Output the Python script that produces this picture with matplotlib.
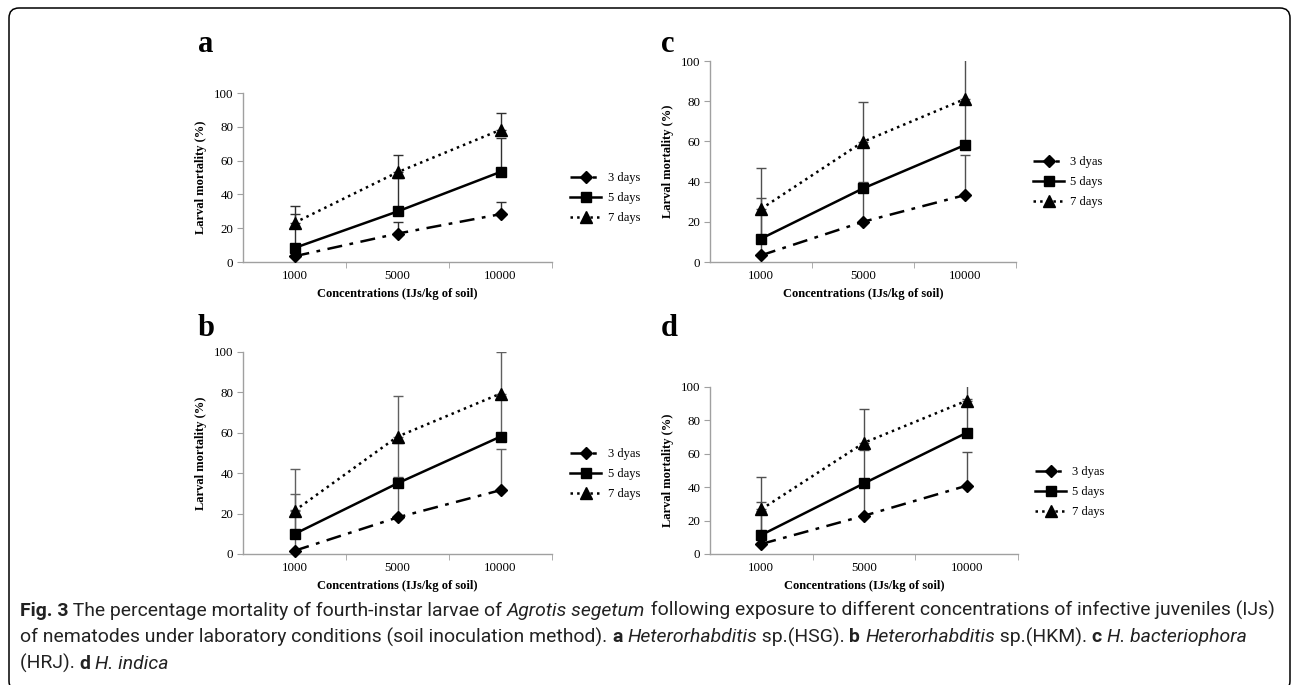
import matplotlib
matplotlib.use('Agg')
import matplotlib.pyplot as plt
import matplotlib.transforms as mtransforms
from matplotlib.patches import FancyBboxPatch

plt.rcParams['font.family'] = ['Liberation Serif', 'DejaVu Serif']

# kategorie na osi x
concentrations = ['1000', '5000', '10000']
ylabel = 'Larval mortality (%)'
xlabel = 'Concentrations (IJs/kg of soil)'

# a - Heterorhabditis sp.(HSG)
a_3 = [3.4, 16.8, 28.3]
a_5 = [8.3, 29.9, 53.3]
a_7 = [23.2, 53.1, 78.2]
a_3_err = [7.0, 7.1, 7.4]
a_5_err = [20.1, 20.0, 19.9]
a_7_err = [10.1, 10.2, 10.2]
a_labels = ['3 days', '5 days', '7 days']

# b - Heterorhabditis sp.(HKM)
b_3 = [1.6, 18.1, 31.6]
b_5 = [9.9, 35.0, 58.1]
b_7 = [21.4, 58.1, 79.4]
b_3_err = [20.0, 20.2, 20.2]
b_5_err = [19.8, 20.1, 20.0]
b_7_err = [20.5, 20.3, 20.6]
b_labels = ['3 dyas', '5 days', '7 days']

# c - H. bacteriophora (HRJ)
c_3 = [3.3, 20.0, 33.3]
c_5 = [11.6, 36.6, 58.2]
c_7 = [26.4, 59.8, 81.1]
c_3_err = [20.6, 19.6, 19.9]
c_5_err = [20.1, 20.8, 20.8]
c_7_err = [20.5, 20.0, 20.4]
c_labels = ['3 dyas', '5 days', '7 days']

# d - H. indica
d_3 = [6.0, 22.9, 40.9]
d_5 = [11.4, 42.3, 72.6]
d_7 = [26.8, 66.6, 91.8]
d_3_err = [20.0, 20.0, 20.4]
d_5_err = [19.9, 20.0, 20.0]
d_7_err = [19.5, 20.0, 20.0]
d_labels = ['3 dyas', '5 days', '7 days']

W, H = 1292, 685
fig = plt.figure(figsize=(W / 100, H / 100), dpi=100)


def px_axes(left, right, top, bottom):
    return fig.add_axes([left / W, 1 - bottom / H, (right - left) / W, (bottom - top) / H])


def panel(ax, s3, s5, s7, e3, e5, e7, labels, leg_x, leg_y, err_col):
    x = range(len(concentrations))
    for vals, err in ((s3, e3), (s5, e5), (s7, e7)):
        ax.errorbar(x, vals, yerr=[[0] * 3, err], fmt='none', ecolor=err_col,
                    elinewidth=1.0, capsize=3.5, capthick=1.0, zorder=2)
    ax.plot(x, s3, color='black', lw=1.8, dashes=(6, 3, 1.5, 3), marker='D',
            ms=6, label=labels[0], clip_on=False, zorder=3)
    ax.plot(x, s5, color='black', lw=1.8, ls='-', marker='s',
            ms=7.5, label=labels[1], clip_on=False, zorder=3)
    ax.plot(x, s7, color='black', lw=1.8, ls=':', marker='^',
            ms=8, label=labels[2], clip_on=False, zorder=3)
    ax.set_xlim(-0.5, 2.5)
    ax.set_ylim(0, 100)
    ax.set_yticks(range(0, 101, 20))
    ax.set_xticks(list(x))
    ax.set_xticklabels(concentrations)
    ax.set_xticks([0.5, 1.5, 2.5], minor=True)
    ax.tick_params(axis='x', which='major', length=0, pad=6, labelsize=9.3)
    ax.tick_params(axis='x', which='minor', length=4, color='#a0a0a0')
    ax.tick_params(axis='y', length=4, color='#a0a0a0', labelsize=9.3, pad=3)
    for s in ('top', 'right'):
        ax.spines[s].set_visible(False)
    for s in ('left', 'bottom'):
        ax.spines[s].set_color('#a0a0a0')
        ax.spines[s].set_linewidth(1.0)
    ax.set_ylabel(ylabel, fontsize=9, fontweight='bold', labelpad=5)
    ax.set_xlabel(xlabel, fontsize=9, fontweight='bold', labelpad=4)
    ax.legend(loc='center left', bbox_to_anchor=(leg_x / W, 1 - leg_y / H),
              bbox_transform=fig.transFigure, frameon=False, fontsize=9,
              handlelength=2.5, handletextpad=0.5, labelspacing=0.65,
              borderpad=0, borderaxespad=0)


ax_a = px_axes(243, 552, 93, 262)
panel(ax_a, a_3, a_5, a_7, a_3_err, a_5_err, a_7_err, a_labels, 570, 198, '#303030')
ax_c = px_axes(710, 1016, 61, 262)
panel(ax_c, c_3, c_5, c_7, c_3_err, c_5_err, c_7_err, c_labels, 1033, 182, '#505050')
ax_b = px_axes(243, 552, 352, 554)
panel(ax_b, b_3, b_5, b_7, b_3_err, b_5_err, b_7_err, b_labels, 570, 474, '#606060')
ax_d = px_axes(710, 1018, 387, 554)
panel(ax_d, d_3, d_5, d_7, d_3_err, d_5_err, d_7_err, d_labels, 1035, 492, '#505050')

# litery paneli
for letter, lx, ly in (('a', 198, 45), ('c', 661, 45), ('b', 198, 328), ('d', 661, 328)):
    fig.text(lx / W, 1 - ly / H, letter, fontsize=22, fontweight='bold',
             ha='left', va='center')

# ramka
frame = FancyBboxPatch((9, -6), 1281, 683, boxstyle='round,pad=0,rounding_size=10',
                       transform=mtransforms.IdentityTransform(), fill=False,
                       edgecolor='black', lw=1.1)
fig.patches.append(frame)

# podpis
cap_font = ['Roboto', 'DejaVu Sans']
N, B, I = 'normal', 'bold', 'italic'
caption = [
    [('Fig. 3', B), (' The percentage mortality of fourth-instar larvae of ', N),
     ('Agrotis segetum', I),
     (' following exposure to different concentrations of infective juveniles (IJs)', N)],
    [('of nematodes under laboratory conditions (soil inoculation method). ', N), ('a', B),
     (' ', N), ('Heterorhabditis', I), (' sp.(HSG). ', N), ('b', B), (' ', N),
     ('Heterorhabditis', I), (' sp.(HKM). ', N), ('c', B), (' ', N), ('H. bacteriophora', I)],
    [('(HRJ). ', N), ('d', B), (' ', N), ('H. indica', I)],
]
renderer = fig.canvas.get_renderer()


def draw_line(line, y, size):
    x = 20 / W
    arts = []
    for txt, st in line:
        t = fig.text(x, y, txt, family=cap_font, fontsize=size, va='baseline', ha='left',
                     fontweight='bold' if st == B else 'normal',
                     fontstyle='italic' if st == I else 'normal', color='#222222')
        x += t.get_window_extent(renderer=renderer).width / W
        arts.append(t)
    return arts, x * W - 20


# dopasowanie rozmiaru, by pierwsza linia kończyła się ok. x=1275
probe, width = draw_line(caption[0], 0.5, 12)
for t in probe:
    t.remove()
cap_size = 12 * 1248 / width

for i, line in enumerate(caption):
    draw_line(line, 1 - (616 + i * 26.5) / H, cap_size)

fig.savefig('out.png', dpi=100)
